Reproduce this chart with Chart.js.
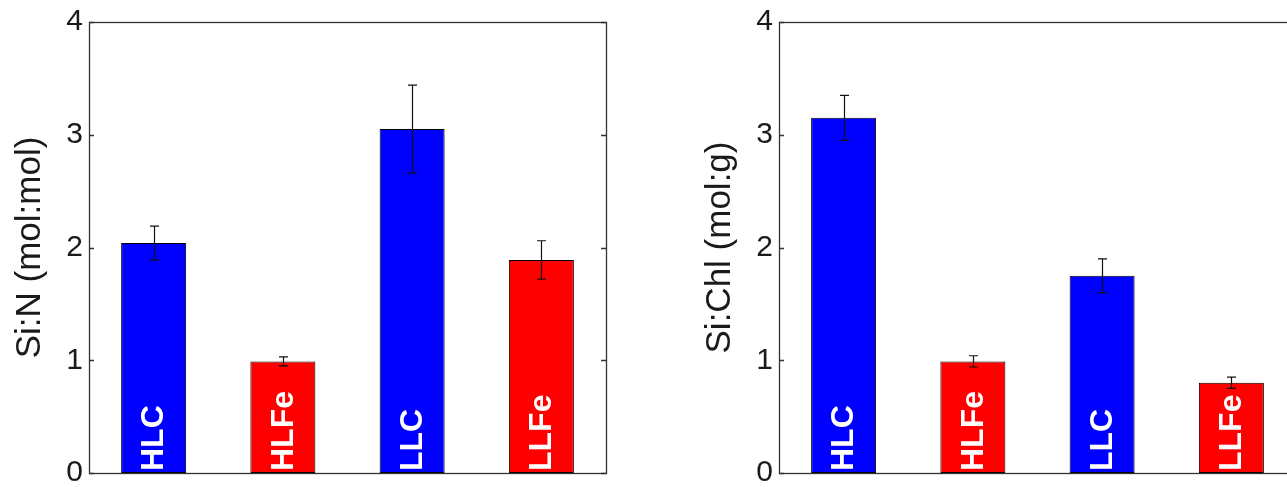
<!DOCTYPE html>
<html>
<head>
<meta charset="utf-8">
<script src="https://cdn.jsdelivr.net/npm/chart.js@4.4.0/dist/chart.umd.min.js"></script>
<style>
  html, body { margin: 0; padding: 0; background: #fff; overflow: hidden; width: 1287px; height: 487px; }
  canvas { position: absolute; top: 0; }
  #c1 { left: 0px; }
  #c2 { left: 690px; }
</style>
</head>
<body>
<canvas id="c1" width="620" height="487"></canvas>
<canvas id="c2" width="620" height="487"></canvas>
<script>
const categories = ['HLC', 'HLFe', 'LLC', 'LLFe'];
const siN = [2.04, 0.99, 3.05, 1.89];
const siNErr = [0.15, 0.04, 0.39, 0.17];
const siChl = [3.15, 0.99, 1.75, 0.80];
const siChlErr = [0.20, 0.05, 0.15, 0.05];
const yTicks = [0, 1, 2, 3, 4];
const titles = ['Si:N (mol:mol)', 'Si:Chl (mol:g)'];

const BLUE = '#0000ff', RED = '#ff0000';
const barColors = [BLUE, RED, BLUE, RED];
const FONT = "'Liberation Sans', Arial, Helvetica, sans-serif";

const framePlugin = {
  id: 'frame',
  afterDatasetsDraw(chart) {
    const ctx = chart.ctx;
    const a = chart.chartArea;
    const y = chart.scales.y;
    const x = chart.scales.x;
    const meta = chart.getDatasetMeta(0);
    const errs = chart.options.plugins.frame.errors;
    const vals = chart.data.datasets[0].data;
    ctx.save();
    // bar labels
    ctx.fillStyle = '#ffffff';
    ctx.font = "bold 32px " + FONT;
    ctx.textAlign = 'left';
    ctx.textBaseline = 'middle';
    chart.data.labels.forEach((lab, i) => {
      const cx = x.getPixelForValue(i);
      const by = y.getPixelForValue(0);
      ctx.save();
      ctx.translate(cx + 1, by - 2);
      ctx.rotate(-Math.PI / 2);
      ctx.fillText(lab, 0, 0);
      ctx.restore();
    });
    // error bars
    ctx.strokeStyle = '#111';
    ctx.lineWidth = 1.2;
    vals.forEach((v, i) => {
      const cx = Math.round(meta.data[i].x) + 0.5;
      const yt = y.getPixelForValue(v + errs[i]);
      const yb = y.getPixelForValue(v - errs[i]);
      ctx.beginPath();
      ctx.moveTo(cx, yt); ctx.lineTo(cx, yb);
      ctx.moveTo(cx - 4.5, yt); ctx.lineTo(cx + 4.5, yt);
      ctx.moveTo(cx - 4.5, yb); ctx.lineTo(cx + 4.5, yb);
      ctx.stroke();
    });
    // frame
    ctx.strokeStyle = '#333';
    ctx.lineWidth = 1.3;
    ctx.strokeRect(Math.round(a.left) + 0.5, Math.round(a.top) + 0.5,
                   Math.round(a.right - a.left), Math.round(a.bottom - a.top));
    // ticks inward on left and right
    yTicks.forEach(t => {
      const py = Math.round(y.getPixelForValue(t)) + 0.5;
      ctx.beginPath();
      ctx.moveTo(a.left, py); ctx.lineTo(a.left + 5, py);
      ctx.moveTo(a.right, py); ctx.lineTo(a.right - 5, py);
      ctx.stroke();
    });
    ctx.restore();
  }
};

function makeChart(id, values, errors, title) {
  return new Chart(document.getElementById(id), {
    type: 'bar',
    data: {
      labels: categories,
      datasets: [{
        data: values,
        backgroundColor: barColors,
        borderColor: '#000',
        borderWidth: 1,
        borderSkipped: false,
        barPercentage: 0.503,
        categoryPercentage: 1.0
      }]
    },
    options: {
      responsive: false,
      animation: false,
      layout: { padding: { left: 0, right: 14, top: 22, bottom: 14 } },
      plugins: {
        legend: { display: false },
        tooltip: { enabled: false },
        frame: { errors: errors }
      },
      scales: {
        x: {
          display: false,
          offset: true,
          grid: { display: false }
        },
        y: {
          min: 0,
          max: 4,
          afterBuildTicks(scale) { scale.ticks = yTicks.map(v => ({ value: v })); },
          afterFit(scale) {
            scale.width = 89;
            scale.paddingTop = 0;
            scale.paddingBottom = 0;
          },
          grid: { display: false, drawTicks: false },
          border: { display: false },
          ticks: {
            color: '#1a1a1a',
            padding: 6,
            font: { family: FONT, size: 30 }
          },
          title: {
            display: true,
            text: title,
            color: '#1a1a1a',
            padding: { top: 9, bottom: 0 },
            font: { family: FONT, size: 35 }
          }
        }
      }
    },
    plugins: [framePlugin]
  });
}

makeChart('c1', siN, siNErr, titles[0]);
makeChart('c2', siChl, siChlErr, titles[1]);
</script>
</body>
</html>
